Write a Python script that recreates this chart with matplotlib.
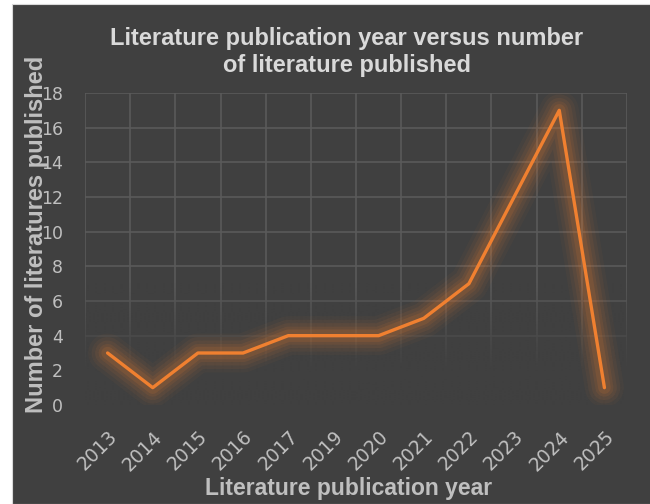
import numpy as np
import matplotlib.pyplot as plt
from matplotlib.patches import Rectangle

# data
years = ['2013', '2014', '2015', '2016', '2017', '2019', '2020',
         '2021', '2022', '2023', '2024', '2025']
counts = [3, 1, 3, 3, 4, 4, 4, 5, 7, 12, 17, 1]

bg = '#404040'
grid_col = '#5a5a5a'
line_col = '#f08030'
text_col = '#bfbfbf'

fig = plt.figure(figsize=(6.5, 5.04), dpi=100, facecolor='white')
# dark chart area with thin white margin on top/left
fig.patches.append(Rectangle((12 / 650, 0), 1, 1 - 4 / 504, transform=fig.transFigure,
                             facecolor=bg, edgecolor='#d9d9d9', linewidth=0.8, zorder=-10))

ax = fig.add_axes([85 / 650, 1 - 405 / 504, 542 / 650, 312 / 504])
ax.patch.set_alpha(0)

x = np.arange(len(years))

# grid at category boundaries
for b in np.arange(len(years) + 1) - 0.5:
    ax.axvline(b, color=grid_col, lw=1.2, zorder=1)
for t in range(0, 20, 2):
    ax.axhline(t, color=grid_col, lw=1.2, zorder=1)

# fade the grid out towards the bottom
v = np.linspace(18, 0, 200)
alpha = np.clip((7 - v) / 5.0, 0, 1)
grad = np.zeros((200, 1, 4))
grad[..., :3] = 0x40 / 255
grad[:, 0, 3] = alpha
ax.imshow(grad, extent=[-0.5, len(years) - 0.5, 0, 18], aspect='auto',
          origin='upper', zorder=2, interpolation='bilinear')

# glow under the line
for lw, a in [(28, 0.04), (23, 0.055), (18, 0.07), (13, 0.09), (9, 0.12)]:
    ax.plot(x, counts, color=line_col, lw=lw, alpha=a, solid_capstyle='round',
            solid_joinstyle='round', zorder=3)
ax.plot(x, counts, color=line_col, lw=2.4, solid_capstyle='round',
        solid_joinstyle='round', zorder=4)

ax.set_xlim(-0.5, len(years) - 0.5)
ax.set_ylim(0, 18)
ax.set_yticks(range(0, 20, 2))
ax.set_xticks(x)
ax.set_xticklabels(years, rotation=45, ha='right', rotation_mode='anchor')
for s in ax.spines.values():
    s.set_visible(False)
ax.tick_params(axis='both', length=0, colors=text_col)
ax.tick_params(axis='y', pad=16, labelsize=12.5)
ax.tick_params(axis='x', pad=16, labelsize=13.5)
for lab in ax.get_xticklabels() + ax.get_yticklabels():
    lab.set_fontfamily('DejaVu Sans')

fig.text(347 / 650, 1 - 52 / 504,
         'Literature publication year versus number\nof literature published',
         ha='center', va='center', fontsize=17, fontweight='bold',
         color='#d9d9d9', family='Liberation Sans', linespacing=1.2)
fig.text(349 / 650, 1 - 488 / 504, 'Literature publication year',
         ha='center', va='center', fontsize=16.5, fontweight='bold',
         color=text_col, family='Liberation Sans')
fig.text(37 / 650, 1 - 234 / 504, 'Number of literatures published',
         ha='center', va='center', rotation=90, fontsize=17, fontweight='bold',
         color=text_col, family='Liberation Sans')

plt.savefig('out.png', dpi=100, facecolor='white')
